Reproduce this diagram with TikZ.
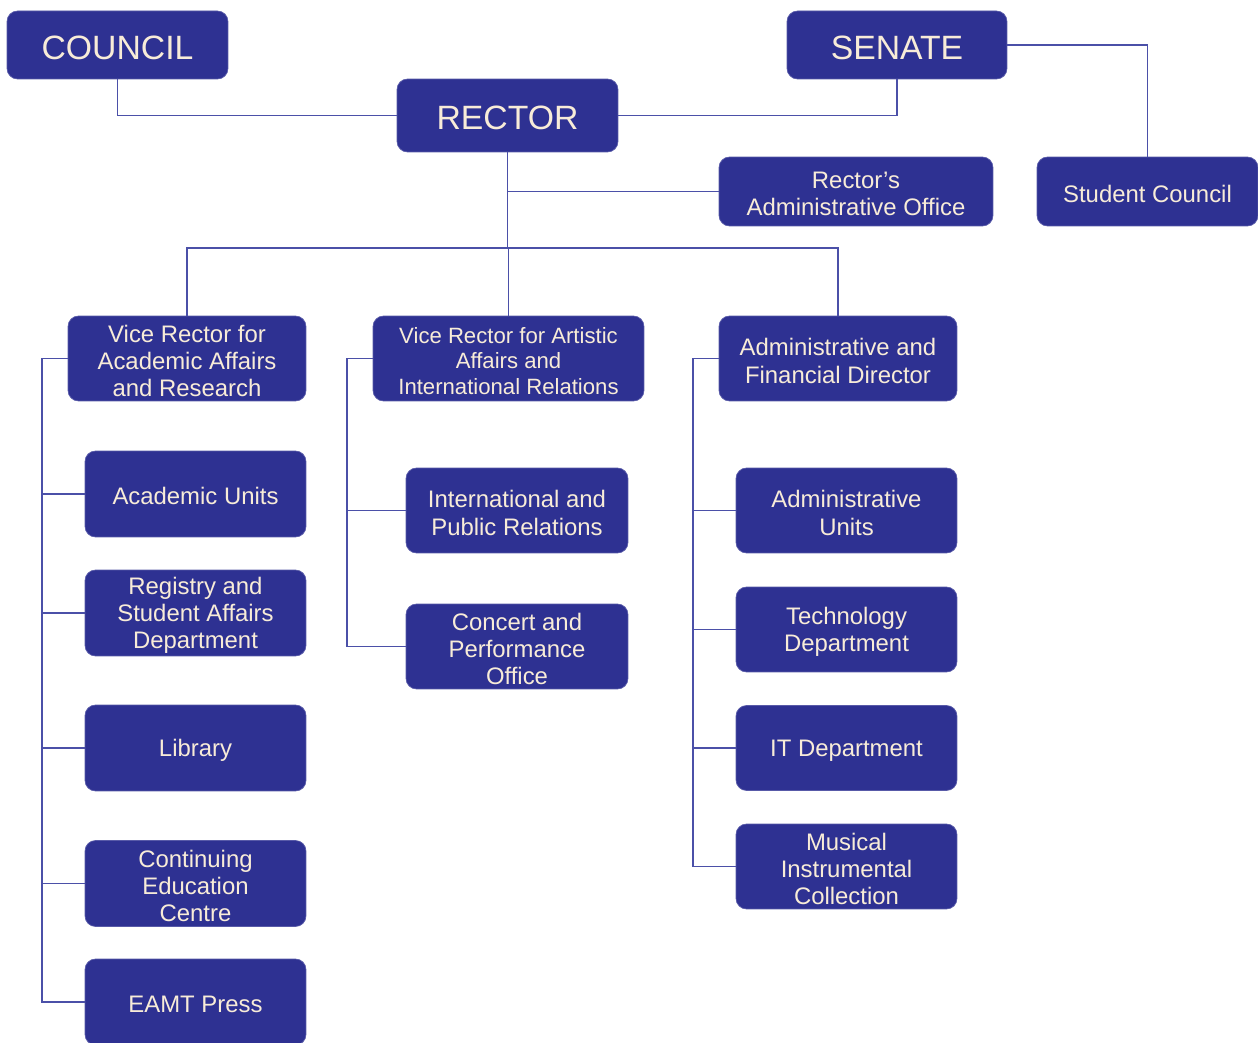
\documentclass[tikz,border=0pt]{standalone}
\usepackage{fontspec}
\setmainfont{Liberation Sans}
\definecolor{boxblue}{HTML}{2E3192}
\definecolor{cream}{HTML}{F8ECD8}
\definecolor{linkblue}{HTML}{4B50A8}
\newcommand\orgbox[7]{%
  \node[box, minimum width=#4cm, minimum height=#5cm] (#1) at (#2,#3) {};
  \node[#6, yshift=-1.4pt] at (#1.center) {#7};}
\begin{document}
\begin{tikzpicture}[x=0.02cm,y=-0.02cm,
  box/.style={fill=boxblue, draw=boxblue!80!white, line width=0.4pt, rounded corners=6pt, inner sep=0pt},
  normtxt/.style={text=cream, align=center, inner sep=0pt, font=\fontsize{13.6}{15.5}\selectfont},
  bigtxt/.style={normtxt, font=\fontsize{19.2}{22}\selectfont},
  smalltxt/.style={normtxt, font=\fontsize{12.6}{14.5}\selectfont},
  link/.style={draw=linkblue, line width=0.9pt}]
\useasboundingbox (0,0) rectangle (1258,1043);
% top level
\orgbox{council}{117.5}{45}{4.42}{1.36}{bigtxt}{COUNCIL}
\orgbox{senate}{897}{45}{4.40}{1.36}{bigtxt}{SENATE}
\orgbox{rector}{507.5}{115.5}{4.42}{1.46}{bigtxt}{RECTOR}
\orgbox{rao}{856}{191.5}{5.48}{1.38}{normtxt}{Rector’s\\Administrative Office}
\orgbox{student}{1147.5}{191.5}{4.42}{1.38}{normtxt}{Student Council}
% second level
\orgbox{vracad}{187}{358.5}{4.76}{1.70}{normtxt}{Vice Rector for\\Academic Affairs\\and Research}
\orgbox{vrart}{508.5}{358.5}{5.42}{1.70}{smalltxt}{Vice Rector for Artistic\\Affairs and\\International Relations}
\orgbox{admdir}{838}{358.5}{4.76}{1.70}{normtxt}{Administrative and\\Financial Director}
% left column
\orgbox{acad}{195.5}{494}{4.42}{1.72}{normtxt}{Academic Units}
\orgbox{reg}{195.5}{613}{4.42}{1.72}{normtxt}{Registry and\\Student Affairs\\Department}
\orgbox{lib}{195.5}{748}{4.42}{1.72}{normtxt}{Library}
\orgbox{cont}{195.5}{883.5}{4.42}{1.72}{normtxt}{Continuing\\Education\\Centre}
\orgbox{eamt}{195.5}{1002}{4.42}{1.72}{normtxt}{EAMT Press}
% middle column
\orgbox{intl}{517}{510.5}{4.44}{1.70}{normtxt}{International and\\Public Relations}
\orgbox{concert}{517}{646.5}{4.44}{1.70}{normtxt}{Concert and\\Performance\\Office}
% right column
\orgbox{admu}{846.5}{510.5}{4.42}{1.70}{normtxt}{Administrative\\Units}
\orgbox{tech}{846.5}{629.5}{4.42}{1.70}{normtxt}{Technology\\Department}
\orgbox{itd}{846.5}{748}{4.42}{1.70}{normtxt}{IT Department}
\orgbox{mic}{846.5}{866.5}{4.42}{1.70}{normtxt}{Musical\\Instrumental\\Collection}
% connectors
\draw[link] (council.south) |- (rector.west);
\draw[link] (rector.east) -| (senate.south);
\draw[link] (senate.east) -| (student.north);
\coordinate (bar) at (508,248);
\draw[link] (rector.south) -- (rector.south |- bar);
\draw[link] (rector.south |- rao.west) -- (rao.west);
\draw[link] (vracad.north) |- (bar) -| (admdir.north);
\draw[link] (vrart.north |- bar) -- (vrart.north);
% left spine
\coordinate (lsp) at (42,358.5);
\draw[link] (vracad.west) -- (lsp) |- (eamt.west);
\foreach \n in {acad,reg,lib,cont} \draw[link] (lsp |- \n.west) -- (\n.west);
% middle spine
\coordinate (msp) at (347,358.5);
\draw[link] (vrart.west) -- (msp) |- (concert.west);
\draw[link] (msp |- intl.west) -- (intl.west);
% right spine
\coordinate (rsp) at (693,358.5);
\draw[link] (admdir.west) -- (rsp) |- (mic.west);
\foreach \n in {admu,tech,itd} \draw[link] (rsp |- \n.west) -- (\n.west);
\end{tikzpicture}
\end{document}
